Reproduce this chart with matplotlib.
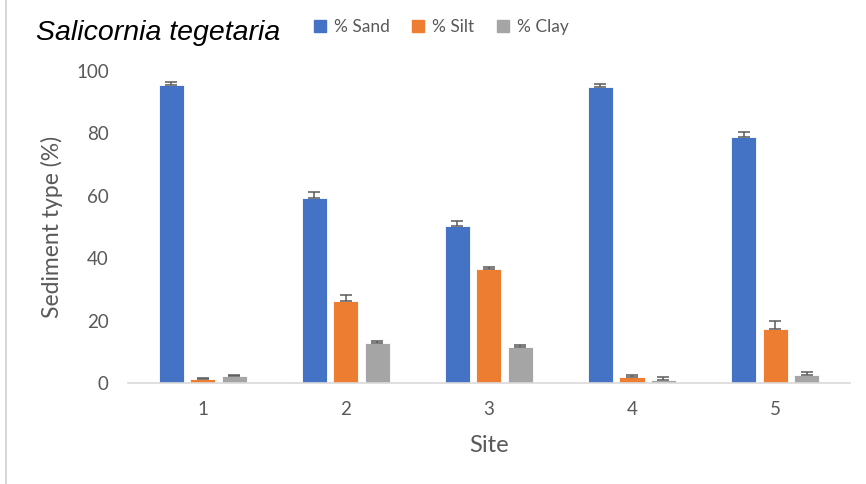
"""Sediment composition per site for Salicornia tegetaria"""
import matplotlib
matplotlib.use('Agg')
import matplotlib.pyplot as plt
from matplotlib.lines import Line2D
import numpy as np

sites = ['1', '2', '3', '4', '5']
sand = [95.5, 59.2, 50.4, 95.0, 79.0]
silt = [1.2, 26.2, 36.6, 2.0, 17.4]
clay = [2.1, 12.9, 11.4, 0.8, 2.7]
sand_err = [1.0, 2.0, 1.5, 0.8, 1.5]
silt_err = [0.5, 2.0, 0.5, 0.5, 2.6]
clay_err = [0.6, 0.5, 0.8, 1.1, 0.8]

series = [
    ('% Sand', sand, sand_err, '#4472C4'),
    ('% Silt', silt, silt_err, '#ED7D31'),
    ('% Clay', clay, clay_err, '#A5A5A5'),
]

TEXT = '#595959'
plt.rcParams['font.family'] = ['Lato', 'DejaVu Sans']

fig = plt.figure(figsize=(8.66, 4.84), dpi=100)
ax = fig.add_axes([0.148, 0.2087, 0.833, 0.6446])

x = np.arange(1, len(sites) + 1)
width = 0.175
offsets = [-0.22, 0.0, 0.22]
for (label, vals, err, color), off in zip(series, offsets):
    vals = np.array(vals)
    err = np.array(err)
    ax.bar(x + off, vals, width, color=color, edgecolor='white', linewidth=0.6,
           label=label, zorder=2)
    # plus-only error bars
    ax.errorbar(x + off, vals, yerr=[np.zeros_like(err), err], fmt='none',
                ecolor='#5a5a5a', elinewidth=1.1, capsize=4.3, capthick=1.1, zorder=3)

ax.set_xlim(0.48, 5.52)
ax.set_ylim(0, 100)
ax.set_yticks(range(0, 101, 20))
ax.set_xticks(x)
ax.set_xticklabels(sites)
ax.tick_params(length=0, labelsize=13.5, colors=TEXT)
ax.tick_params(axis='x', pad=13)
ax.tick_params(axis='y', pad=14)
for side in ['top', 'right', 'left']:
    ax.spines[side].set_visible(False)
ax.spines['bottom'].set_color('#d9d9d9')
ax.spines['bottom'].set_linewidth(1.2)

ax.set_xlabel('Site', fontsize=17, color=TEXT, labelpad=12)
ax.set_ylabel('Sediment type (%)', fontsize=16.5, color=TEXT, labelpad=9)

fig.text(0.042, 0.932, 'Salicornia tegetaria', fontsize=20.5, style='italic',
         family='Liberation Sans', color='black', va='center')

handles = [Line2D([], [], marker='s', linestyle='none', markersize=8,
                  markerfacecolor=c, markeredgecolor=c) for _, _, _, c in series]
fig.legend(handles, [s[0] for s in series], loc='center left',
           bbox_to_anchor=(0.341, 0.945), ncol=3, frameon=False, fontsize=12.5,
           labelcolor=TEXT, handletextpad=0.3, columnspacing=1.15,
           handlelength=1.0)

# thin frame line on the left edge
fig.add_artist(Line2D([0.007, 0.007], [0, 1], color='#d0d0d0', linewidth=1.2))

fig.savefig('out.png', dpi=100)
